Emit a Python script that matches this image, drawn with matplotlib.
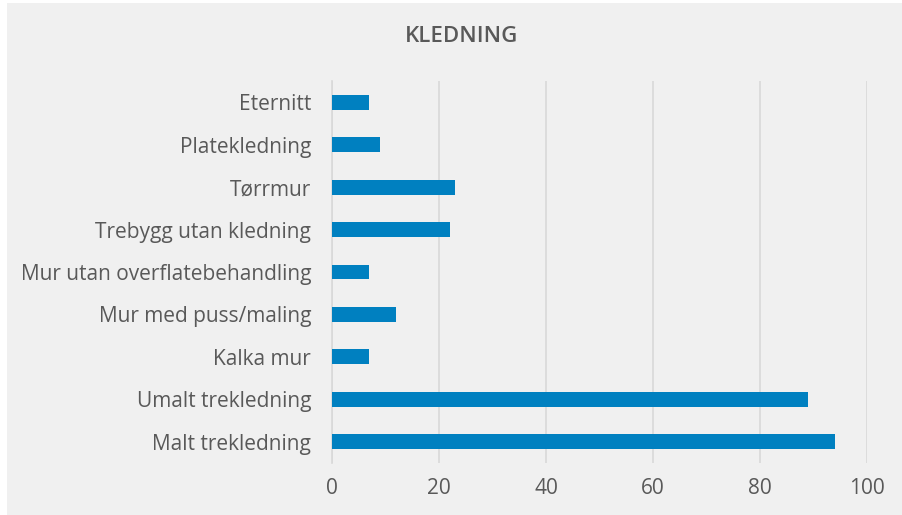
import matplotlib
matplotlib.use("Agg")
import matplotlib.pyplot as plt
from matplotlib.patches import Rectangle

categories = [
    "Malt trekledning",
    "Umalt trekledning",
    "Kalka mur",
    "Mur med puss/maling",
    "Mur utan overflatebehandling",
    "Trebygg utan kledning",
    "Tørrmur",
    "Platekledning",
    "Eternitt",
]
values = [94, 89, 7, 12, 7, 22, 23, 9, 7]
x_ticks = [0, 20, 40, 60, 80, 100]
title = "KLEDNING"

bg = "#f0f0f0"
bar_color = "#0080c0"
text_color = "#595959"
grid_color = "#d9d9d9"

plt.rcParams["font.family"] = ["Open Sans", "DejaVu Sans"]

fig = plt.figure(figsize=(9.03, 5.15), dpi=100)
fig.patch.set_facecolor("white")
panel = Rectangle((7 / 903, 0), 1 - 7 / 903, 1 - 3 / 515,
                  transform=fig.transFigure, facecolor=bg,
                  edgecolor="none", zorder=-10)
fig.add_artist(panel)

ax = fig.add_axes([332 / 903, 1 - 463 / 515, (867 - 332) / 903, (463 - 81) / 515])
ax.set_facecolor(bg)

ax.barh(range(len(categories)), values, height=0.35, color=bar_color, zorder=3)

ax.set_xlim(0, 100)
ax.set_ylim(-0.5, len(categories) - 0.5)
ax.set_xticks(x_ticks)
ax.set_xticklabels([str(t) for t in x_ticks])
ax.set_yticks(range(len(categories)))
ax.set_yticklabels(categories)

ax.grid(axis="x", color=grid_color, linewidth=1.2, zorder=0)
for s in ["top", "right", "bottom"]:
    ax.spines[s].set_visible(False)
ax.spines["left"].set_color(grid_color)
ax.spines["left"].set_linewidth(1.2)
ax.tick_params(axis="both", length=0, colors=text_color, labelsize=15)
ax.tick_params(axis="x", pad=11)
ax.tick_params(axis="y", pad=15)

fig.text(0.511, 1 - 36 / 515, title, ha="center", va="center",
         fontsize=16, fontweight="semibold", color=text_color)

fig.savefig("out.png", dpi=100, facecolor=fig.get_facecolor())
